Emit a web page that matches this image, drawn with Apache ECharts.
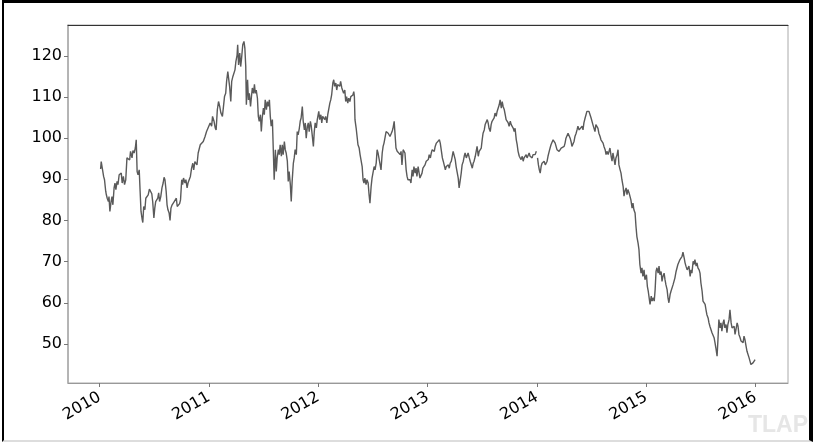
<!DOCTYPE html>
<html>
<head>
<meta charset="utf-8">
<script src="https://cdn.jsdelivr.net/npm/echarts@6/dist/echarts.min.js"></script>
<style>
  html, body { margin: 0; padding: 0; background: #fff; }
  #chart { position: absolute; left: 0; top: 0; width: 817px; height: 445px; }
  #frame {
    position: absolute; left: 2px; top: 0; width: 811px; height: 442px;
    box-sizing: border-box; pointer-events: none;
    border-top: 3px solid #000; border-left: 2px solid #000;
    border-right: 4px solid #000; border-bottom: 2px solid #ddd;
  }
</style>
</head>
<body>
<div id="chart"></div>
<div id="frame"></div>
<script>
// daily close, a few days apart (MM-DD per year)
const dates2010 = [
  '01-04','01-06','01-11','01-14','01-17','01-21','01-23','01-26','01-30','02-01',
  '02-04','02-08','02-11','02-14','02-18','02-21','02-24','02-28','03-03','03-07',
  '03-11','03-14','03-17','03-21','03-25','03-29','04-02','04-06','04-11','04-14',
  '04-19','04-22','04-26','04-30','05-03','05-06','05-09','05-13','05-16','05-19',
  '05-23','05-25','05-28','06-01','06-04','06-08','06-12','06-16','06-19','06-24',
  '06-27','07-01','07-04','07-07','07-10','07-14','07-17','07-20','07-24','07-28',
  '08-01','08-04','08-07','08-11','08-14','08-17','08-21','08-24','08-27','08-31',
  '09-04','09-07','09-11','09-14','09-17','09-21','09-25','09-28','10-02','10-05',
  '10-08','10-13','10-16','10-20','10-23','10-27','10-31','11-04','11-08','11-11',
  '11-15','11-19','11-22','11-26','11-30','12-03','12-08','12-13','12-19','12-24',
  '12-30'
]
const prices2010 = [
  92.5, 94.3, 94.2, 90.7, 89.9, 87.1, 86.3, 85.4, 84.6, 85.8,
  82.2, 84.6, 85.8, 83.8, 87.9, 89.1, 87.5, 89.5, 88.7, 91.1,
  90.7, 91.5, 89.1, 90.7, 88.7, 89.9, 95.2, 95.6, 94.7, 96.8,
  95.2, 97.0, 96.4, 97.6, 99.6, 91.9, 91.1, 92.3, 87.1, 82.2,
  80.2, 79.5, 83.4, 82.6, 85.4, 85.0, 86.2, 87.6, 87.5, 86.5,
  84.6, 80.6, 83.0, 84.6, 85.0, 85.4, 86.7, 84.6, 85.8, 87.9,
  89.1, 90.5, 89.9, 87.1, 83.8, 82.6, 81.8, 80.0, 83.0, 83.8,
  83.4, 84.6, 84.2, 85.4, 83.4, 83.0, 84.1, 85.0, 89.9, 88.7,
  90.3, 89.1, 89.9, 87.9, 89.1, 88.7, 90.7, 92.7, 93.9, 92.3,
  94.3, 94.7, 93.5, 96.4, 96.0, 98.4, 98.8, 99.2, 100.4, 101.6,
  102.0
]

const dates2011 = [
  '01-05','01-10','01-13','01-18','01-22','01-25','01-29','02-02','02-06','02-10',
  '02-15','02-18','02-22','02-26','03-01','03-05','03-08','03-11','03-15','03-18',
  '03-22','03-26','03-29','04-01','04-05','04-07','04-10','04-14','04-17','04-20',
  '04-24','04-28','05-01','05-04','05-06','05-10','05-13','05-16','05-20','05-23',
  '05-26','05-30','06-02','06-05','06-08','06-12','06-15','06-18','06-22','06-25',
  '06-28','07-02','07-05','07-08','07-12','07-15','07-18','07-22','07-25','07-28',
  '08-01','08-04','08-07','08-11','08-14','08-17','08-21','08-24','08-27','08-31',
  '09-03','09-06','09-10','09-13','09-16','09-20','09-23','09-26','09-30','10-03',
  '10-06','10-10','10-13','10-16','10-20','10-23','10-26','10-30','11-02','11-05',
  '11-09','11-12','11-16','11-19','11-22','11-26','11-29','12-02','12-06','12-09',
  '12-12','12-16','12-19','12-22','12-26','12-29'
]
const prices2011 = [
  103.7, 102.9, 105.3, 104.1, 102.5, 102.0, 106.9, 108.9, 107.7, 106.1,
  105.3, 107.3, 110.1, 110.9, 113.8, 116.2, 115.8, 112.6, 108.9, 113.8,
  115.0, 115.4, 116.6, 118.6, 120.2, 122.7, 117.8, 120.7, 117.4, 119.4,
  122.7, 123.5, 121.9, 117.4, 108.1, 114.2, 109.3, 110.9, 107.7, 110.1,
  112.2, 110.9, 113.1, 110.9, 111.7, 109.7, 105.3, 104.1, 105.7, 101.6,
  104.9, 107.3, 105.7, 109.3, 106.9, 108.9, 107.7, 109.3, 105.3, 102.9,
  104.5, 97.2, 89.9, 97.2, 91.9, 95.2, 97.2, 96.0, 98.4, 95.6,
  98.4, 96.0, 99.2, 97.2, 96.4, 94.4, 89.5, 91.9, 88.7, 84.6,
  89.5, 93.9, 95.2, 97.2, 96.0, 101.6, 100.8, 102.4, 104.1, 104.9,
  107.7, 104.1, 102.0, 103.7, 100.0, 102.9, 103.7, 101.6, 104.1, 102.9,
  100.8, 98.0, 101.6, 103.7, 102.5, 104.5
]

const dates2012 = [
  '01-03','01-06','01-10','01-13','01-16','01-20','01-23','01-26','01-30','02-02',
  '02-05','02-09','02-12','02-15','02-19','02-22','02-25','02-29','03-03','03-06',
  '03-10','03-13','03-16','03-20','03-23','03-26','03-30','04-02','04-05','04-09',
  '04-12','04-16','04-19','04-22','04-26','04-29','05-01','05-03','05-07','05-10',
  '05-13','05-17','05-20','05-23','05-27','05-30','06-02','06-05','06-09','06-12',
  '06-16','06-19','06-22','06-26','06-29','07-02','07-06','07-09','07-13','07-16',
  '07-19','07-23','07-26','07-29','08-02','08-05','08-08','08-12','08-15','08-18',
  '08-22','08-25','08-28','09-01','09-04','09-07','09-11','09-14','09-17','09-21',
  '09-24','09-27','10-01','10-04','10-07','10-11','10-14','10-17','10-21','10-24',
  '10-27','10-31','11-03','11-06','11-10','11-13','11-16','11-20','11-23','11-26',
  '11-30','12-03','12-06','12-10','12-13','12-16','12-20','12-23','12-27','12-30'
]
const prices2012 = [
  106.5, 104.5, 105.7, 103.7, 105.3, 104.9, 104.5, 105.3, 103.7, 105.7,
  106.1, 108.5, 109.3, 110.5, 113.4, 114.2, 112.6, 113.4, 111.7, 113.0,
  113.4, 112.6, 113.8, 112.2, 112.6, 110.9, 111.7, 108.9, 110.1, 108.5,
  109.7, 108.9, 110.1, 109.7, 110.5, 111.3, 110.1, 104.5, 102.4, 100.4,
  98.4, 97.6, 96.0, 95.6, 93.1, 89.9, 89.1, 90.3, 88.7, 89.9,
  89.1, 86.3, 84.2, 88.3, 90.3, 91.5, 93.1, 92.3, 94.0, 97.2,
  96.4, 94.8, 95.2, 92.3, 96.4, 98.0, 98.8, 100.4, 101.6, 102.0,
  101.2, 100.8, 100.4, 100.8, 101.6, 102.4, 104.1, 100.8, 97.6, 96.8,
  96.4, 97.2, 96.0, 96.8, 93.5, 97.2, 96.8, 96.4, 92.3, 90.7,
  89.9, 90.3, 89.9, 89.1, 92.3, 90.7, 93.1, 91.5, 92.7, 90.7,
  93.1, 92.7, 90.3, 90.7, 91.5, 92.7, 93.1, 93.5, 94.4, 94.8
]

const dates2013 = [
  '01-03','01-06','01-10','01-13','01-16','01-20','01-23','01-26','01-30','02-02',
  '02-05','02-09','02-12','02-15','02-19','02-22','02-25','03-01','03-04','03-07',
  '03-11','03-14','03-17','03-21','03-24','03-27','03-31','04-03','04-06','04-10',
  '04-13','04-16','04-20','04-23','04-26','04-30','05-03','05-06','05-10','05-13',
  '05-16','05-20','05-23','05-26','05-30','06-02','06-05','06-09','06-12','06-15',
  '06-19','06-22','06-25','06-29','07-02','07-05','07-09','07-12','07-15','07-19',
  '07-22','07-25','07-29','08-01','08-04','08-08','08-11','08-14','08-18','08-21',
  '08-24','08-28','08-31','09-04','09-07','09-10','09-14','09-17','09-20','09-24',
  '09-27','09-30','10-04','10-07','10-10','10-14','10-17','10-20','10-24','10-27',
  '10-30','11-03','11-06','11-09','11-13','11-16','11-19','11-23','11-26','11-29',
  '12-03','12-06','12-09','12-13','12-16','12-19','12-23','12-26','12-30'
]
const prices2013 = [
  94.8, 96.0, 95.2, 96.4, 97.2, 97.6, 96.8, 98.0, 98.8, 98.4,
  99.2, 99.6, 98.8, 98.4, 95.2, 94.4, 93.5, 92.3, 93.1, 92.7,
  93.5, 92.7, 93.9, 94.4, 95.6, 96.8, 97.2, 94.8, 93.1, 92.7,
  90.3, 87.9, 89.9, 91.5, 93.5, 94.4, 95.6, 96.4, 95.2, 95.6,
  96.4, 95.2, 94.4, 94.8, 92.7, 93.9, 94.4, 95.6, 96.8, 98.0,
  95.6, 96.8, 96.4, 97.6, 99.6, 101.2, 102.0, 103.3, 102.9, 104.5,
  103.7, 102.4, 101.6, 103.3, 104.1, 103.7, 104.9, 106.1, 105.3, 106.5,
  106.1, 108.1, 109.3, 107.3, 108.9, 107.7, 106.9, 105.7, 104.5, 104.9,
  103.7, 102.9, 104.1, 103.3, 103.7, 102.4, 101.6, 102.4, 99.6, 98.4,
  96.8, 95.6, 96.0, 94.8, 95.6, 94.4, 95.2, 94.8, 96.0, 95.2,
  95.6, 96.4, 95.6, 96.0, 95.2, 96.0, 96.4, 96.0, 96.8
]

// the line breaks at the turn of 2014 (missing value)
const dates2014 = [
  '01-01',
  '01-03','01-06','01-09','01-12','01-15','01-18','01-22','01-25','01-29','02-01',
  '02-04','02-07','02-11','02-14','02-17','02-21','02-24','02-27','03-03','03-06',
  '03-09','03-13','03-16','03-19','03-23','03-26','03-29','04-02','04-05','04-08',
  '04-12','04-15','04-18','04-22','04-25','04-28','05-02','05-05','05-08','05-12',
  '05-15','05-18','05-22','05-25','05-28','06-01','06-04','06-07','06-11','06-14',
  '06-17','06-21','06-24','06-27','07-01','07-04','07-07','07-11','07-14','07-17',
  '07-21','07-24','07-27','07-31','08-03','08-07','08-10','08-13','08-17','08-20',
  '08-23','08-27','08-30','09-02','09-06','09-09','09-12','09-16','09-19','09-22',
  '09-26','09-29','10-02','10-06','10-09','10-12','10-16','10-19','10-22','10-26',
  '10-29','11-01','11-05','11-08','11-11','11-15','11-18','11-21','11-25','11-28',
  '12-01','12-05','12-08','12-11','12-15','12-18','12-21','12-25','12-28'
]
const prices2014 = [
  null,
  95.2, 93.5, 92.3, 91.5, 93.1, 93.9, 93.5, 94.4, 93.5, 93.9,
  94.4, 95.6, 96.8, 97.6, 98.4, 98.8, 99.6, 100.0, 98.8, 98.0,
  97.2, 97.6, 96.8, 96.4, 97.6, 97.2, 97.6, 98.0, 98.8, 100.0,
  100.4, 101.2, 100.8, 100.0, 99.2, 98.0, 98.4, 99.2, 100.4, 101.2,
  102.0, 102.9, 102.0, 101.6, 102.4, 102.9, 102.0, 103.7, 104.9, 105.7,
  106.5, 106.9, 106.5, 106.1, 104.9, 104.5, 103.3, 102.9, 101.6, 103.3,
  103.7, 102.4, 101.2, 100.4, 99.6, 100.0, 98.8, 98.0, 97.2, 96.0,
  96.8, 96.0, 96.4, 97.6, 95.6, 94.4, 96.4, 94.8, 93.5, 95.2,
  96.0, 97.2, 93.5, 92.3, 91.5, 89.9, 88.3, 85.9, 87.1, 87.9,
  86.3, 87.5, 86.7, 86.3, 85.0, 83.0, 84.2, 82.6, 81.8, 78.6,
  76.1, 74.5, 72.9, 69.3, 67.2, 68.5, 66.4, 68.0, 65.6
]

const dates2015 = [
  '01-02','01-05','01-08','01-11','01-14','01-18','01-21','01-24','01-28','01-31',
  '02-03','02-06','02-10','02-13','02-16','02-20','02-23','02-26','03-02','03-05',
  '03-08','03-12','03-15','03-18','03-22','03-25','03-28','04-01','04-04','04-07',
  '04-11','04-14','04-17','04-21','04-24','04-27','05-01','05-04','05-08','05-11',
  '05-14','05-18','05-21','05-24','05-28','05-31','06-03','06-07','06-10','06-13',
  '06-17','06-20','06-23','06-27','06-30','07-03','07-07','07-10','07-13','07-17',
  '07-20','07-23','07-27','07-30','08-02','08-06','08-09','08-12','08-16','08-19',
  '08-22','08-26','08-29','09-01','09-05','09-08','09-11','09-15','09-18','09-21',
  '09-25','09-28','10-01','10-05','10-08','10-12','10-15','10-18','10-22','10-25',
  '10-28','11-01','11-04','11-07','11-11','11-14','11-17','11-21','11-24','11-27',
  '12-01','12-04','12-07','12-11','12-14','12-17','12-21','12-24','12-28','12-31'
]
const prices2015 = [
  66.8, 64.0, 62.8, 62.4, 59.6, 61.6, 60.4, 61.2, 60.4, 63.2,
  67.6, 68.5, 67.2, 68.9, 66.8, 67.6, 65.2, 66.4, 67.2, 65.6,
  64.4, 63.2, 61.2, 60.0, 62.0, 62.8, 63.2, 64.4, 65.2, 66.0,
  67.6, 68.0, 69.3, 69.7, 70.5, 70.1, 71.3, 72.3, 70.9, 69.7,
  68.9, 68.0, 67.6, 68.9, 66.4, 68.0, 67.2, 70.1, 69.3, 70.5,
  68.9, 69.7, 68.5, 68.0, 67.2, 64.8, 62.8, 60.4, 60.0, 59.6,
  58.3, 57.1, 56.3, 55.1, 54.3, 53.9, 52.7, 52.3, 51.5, 50.3,
  49.0, 47.0, 51.1, 55.9, 53.9, 55.1, 53.1, 55.1, 55.9, 53.9,
  54.7, 52.7, 54.7, 55.9, 58.3, 55.1, 53.9, 53.5, 54.3, 52.3,
  53.5, 55.1, 54.3, 52.3, 51.5, 50.7, 51.1, 50.3, 51.9, 51.1,
  49.4, 48.2, 47.8, 46.6, 45.8, 45.0, 44.6, 45.4, 45.0, 46.2
]

const years = [2010, 2011, 2012, 2013, 2014, 2015]
const yearDates = [dates2010, dates2011, dates2012, dates2013, dates2014, dates2015]
const yearPrices = [prices2010, prices2011, prices2012, prices2013, prices2014, prices2015]

const xTickYears = [2010, 2011, 2012, 2013, 2014, 2015, 2016]
const yTicks = [50, 60, 70, 80, 90, 100, 110, 120]

// x is a plain value axis in milliseconds (UTC)
const seriesData = []
years.forEach((y, i) => {
  yearDates[i].forEach((md, j) => {
    seriesData.push([Date.parse(y + '-' + md), yearPrices[i][j]])
  })
})

const xTicks = xTickYears.map(y => Date.UTC(y, 0, 1))
const xMin = Date.parse('2009-09-17')
const xMax = Date.parse('2016-04-19')

const font = 'DejaVu Sans'
const chart = echarts.init(document.getElementById('chart'))
chart.setOption({
  animation: false,
  backgroundColor: '#fff',
  grid: {
    left: 68,
    right: 29,
    top: 25,
    bottom: 62,
    show: true,
    borderColor: '#aaa',
    borderWidth: 1
  },
  graphic: [
    {
      type: 'text',
      right: 9,
      bottom: 8,
      style: {
        text: 'TLAP',
        font: 'bold 23px "Liberation Sans"',
        fill: '#e6e6e6'
      }
    }
  ],
  xAxis: [
    {
      type: 'value',
      min: xMin,
      max: xMax,
      axisLine: { show: true, lineStyle: { color: '#999', width: 1 } },
      axisTick: {
        show: true,
        customValues: xTicks,
        length: 4,
        lineStyle: { color: '#777' }
      },
      axisLabel: {
        customValues: xTicks,
        rotate: 30,
        margin: 13,
        color: '#000',
        fontSize: 16,
        fontFamily: font,
        formatter: v => String(new Date(v).getUTCFullYear())
      },
      splitLine: { show: false }
    },
    {
      // darker top edge of the frame
      type: 'value',
      position: 'top',
      min: xMin,
      max: xMax,
      axisLine: { show: true, lineStyle: { color: '#333', width: 1 } },
      axisTick: { show: false },
      axisLabel: { show: false },
      splitLine: { show: false }
    }
  ],
  yAxis: {
    type: 'value',
    min: 40.5,
    max: 127.5,
    axisLine: { show: true, lineStyle: { color: '#aaa', width: 1.5 } },
    axisTick: {
      show: true,
      customValues: yTicks,
      length: 4,
      lineStyle: { color: '#777' }
    },
    axisLabel: {
      customValues: yTicks,
      margin: 6,
      color: '#000',
      fontSize: 16,
      fontFamily: font
    },
    splitLine: { show: false }
  },
  series: [
    {
      type: 'line',
      xAxisIndex: 0,
      data: seriesData,
      showSymbol: false,
      symbol: 'none',
      connectNulls: false,
      lineStyle: { color: '#5a5a5a', width: 1.4 }
    }
  ]
})
</script>
</body>
</html>
